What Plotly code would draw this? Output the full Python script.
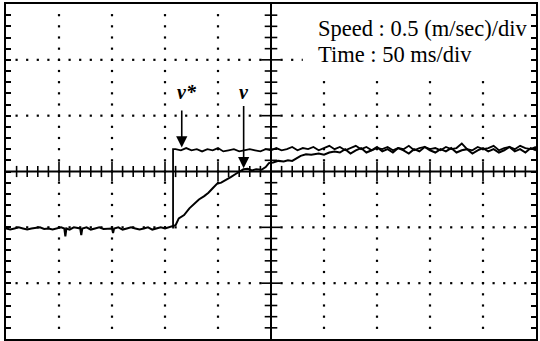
import plotly.graph_objects as go

# ---- data (time in ms, speed in m/s) ----
# common baseline before the step command (both v* and v)
T_BASE = [0, 4, 8, 12, 16, 20, 24, 28, 32, 36, 40, 44, 48, 52, 55, 56, 57, 60, 64, 68, 70, 71, 72,
          76, 80, 84, 88, 92, 96, 100, 101, 102, 106, 110, 114, 118, 122, 126, 130, 134, 138,
          142, 146, 150, 154, 157.6]
V_BASE = [-0.51, -0.52, -0.51, -0.50, -0.51, -0.52, -0.51, -0.505, -0.50, -0.515, -0.51, -0.52,
          -0.51, -0.50, -0.51, -0.58, -0.51, -0.52, -0.50, -0.51, -0.51, -0.57, -0.51,
          -0.50, -0.52, -0.51, -0.50, -0.515, -0.51, -0.51, -0.55, -0.51, -0.50, -0.52, -0.51,
          -0.50, -0.51, -0.52, -0.51, -0.50, -0.52, -0.51, -0.50, -0.51, -0.50, -0.49]

# reference speed v* after the step
T_REF = [157.6, 157.6, 160, 165, 170, 175, 180, 185, 190, 195, 200, 205,
         210, 215, 220, 225, 230, 235, 240, 245, 250, 255,
         260, 265, 270, 275, 280, 285, 290, 295, 300, 305,
         310, 315, 320, 325, 330, 335, 340, 345, 350, 355,
         360, 365, 370, 375, 380, 385, 390, 395, 400, 405,
         410, 415, 420, 425, 430, 435, 440, 445, 450, 455,
         460, 465, 470, 475, 480, 485, 490, 495, 500]
V_REF = [-0.51, 0.20,
         0.20, 0.19, 0.21, 0.19, 0.20, 0.18, 0.20, 0.19, 0.21, 0.18,
         0.19, 0.20, 0.18, 0.19, 0.20, 0.19, 0.18, 0.20, 0.19, 0.21,
         0.19, 0.20, 0.22, 0.19, 0.21, 0.20, 0.22, 0.19, 0.21, 0.23,
         0.20, 0.22, 0.19, 0.21, 0.23, 0.20, 0.22, 0.19, 0.21, 0.20,
         0.22, 0.19, 0.21, 0.20, 0.23, 0.19, 0.21, 0.22, 0.20, 0.21,
         0.19, 0.22, 0.20, 0.21, 0.25, 0.20, 0.19, 0.22, 0.20, 0.21,
         0.23, 0.19, 0.21, 0.22, 0.20, 0.23, 0.21, 0.20, 0.22]

# actual speed v after the step
T_V = [160, 163, 168, 173, 178, 182, 187, 191, 195, 199, 203, 207, 212, 217, 221, 224, 228,
       232, 236, 241, 245, 248, 252, 257, 262, 266, 270, 274, 278, 283, 288, 295, 300, 305, 310,
       315, 320, 325, 330, 335, 340, 345, 350, 355, 360, 365, 370, 375, 380, 385, 390, 395,
       400, 405, 410, 415, 420, 425, 430, 435, 440, 445, 450, 455, 460, 465, 470, 475, 480,
       485, 490, 495, 500]
V_V = [-0.48, -0.42, -0.39, -0.33, -0.29, -0.25, -0.22, -0.19, -0.15, -0.11, -0.10, -0.08,
       -0.05, -0.02, 0.00, 0.02, 0.025, 0.01, 0.02, 0.015, 0.04, 0.075, 0.08, 0.095, 0.09,
       0.10, 0.095, 0.12, 0.14, 0.155, 0.15, 0.16, 0.15, 0.17, 0.18,
       0.17, 0.20, 0.16, 0.19, 0.21, 0.17, 0.19, 0.22, 0.18, 0.20,
       0.17, 0.21, 0.19, 0.16, 0.20, 0.18, 0.22, 0.19, 0.17, 0.20,
       0.18, 0.21, 0.17, 0.19, 0.20, 0.16, 0.19, 0.21, 0.18, 0.20,
       0.17, 0.19, 0.22, 0.18, 0.20, 0.17, 0.21, 0.19]

X_RANGE = [0, 500]        # 10 div x 50 ms
Y_RANGE = [-1.5, 1.5]     # 6 div x 0.5 m/s
X_DIV, Y_DIV = 50, 0.5
X_CENTER, Y_CENTER = 250, 0.0

INFO_LINES = ["Speed : 0.5 (m/sec)/div", "Time : 50 ms/div"]
LABEL_REF, LABEL_V = "v*", "v"

# ---- grid dots and centre-axis ticks derived from the axis divisions ----
x_minor = [i * X_DIV / 5 for i in range(0, 51)]
y_minor = [Y_RANGE[0] + i * Y_DIV / 5 for i in range(0, 31)]
x_grid = [i * X_DIV for i in range(1, 10) if i * X_DIV != X_CENTER]
y_grid = [Y_RANGE[0] + i * Y_DIV for i in range(1, 6) if abs(Y_RANGE[0] + i * Y_DIV - Y_CENTER) > 1e-9]

dot_x, dot_y = [], []
for gx in x_grid:
    for yy in y_minor[1:-1]:
        dot_x.append(gx); dot_y.append(yy)
for gy in y_grid:
    for xx in x_minor[1:-1]:
        dot_x.append(xx); dot_y.append(gy)

fig = go.Figure()
fig.add_trace(go.Scatter(x=dot_x, y=dot_y, mode="markers",
                         marker=dict(size=2.2, color="black", symbol="square"),
                         hoverinfo="skip", showlegend=False))

# centre axes
fig.add_shape(type="line", x0=X_RANGE[0], x1=X_RANGE[1], y0=Y_CENTER, y1=Y_CENTER,
              line=dict(color="black", width=2))
fig.add_shape(type="line", x0=X_CENTER, x1=X_CENTER, y0=Y_RANGE[0], y1=Y_RANGE[1],
              line=dict(color="black", width=2))

hx_minor = [x for i, x in enumerate(x_minor) if i % 5 != 0]
hx_major = [x for i, x in enumerate(x_minor) if i % 5 == 0 and 0 < x < X_RANGE[1]]
vy_minor = [y for i, y in enumerate(y_minor) if i % 5 != 0]
vy_major = [y for i, y in enumerate(y_minor) if i % 5 == 0 and Y_RANGE[0] < y < Y_RANGE[1]]

tick_sets = [(hx_minor, [Y_CENTER] * len(hx_minor), "line-ns-open", 8),
             (hx_major, [Y_CENTER] * len(hx_major), "line-ns-open", 14),
             ([X_CENTER] * len(vy_minor), vy_minor, "line-ew-open", 9),
             ([X_CENTER] * len(vy_major), vy_major, "line-ew-open", 14)]
for tx, ty, sym, sz in tick_sets:
    fig.add_trace(go.Scatter(x=tx, y=ty, mode="markers",
                             marker=dict(symbol=sym, size=sz, color="black",
                                         line=dict(width=1.6, color="black")),
                             hoverinfo="skip", showlegend=False))

# white box behind the scale text (hides grid dots there)
fig.add_shape(type="rect", x0=280, x1=495, y0=0.82, y1=1.48, xref="x", yref="y",
              fillcolor="white", line=dict(width=0), layer="above")

# signals
fig.add_trace(go.Scatter(x=T_REF, y=V_REF, mode="lines", line=dict(color="black", width=1.8),
                         name="v*", showlegend=False))
fig.add_trace(go.Scatter(x=T_BASE + T_V, y=V_BASE + V_V, mode="lines",
                         line=dict(color="black", width=2), name="v", showlegend=False))

font_serif = "Liberation Serif, Times New Roman, serif"

# arrows with labels
arrow_defs = [(LABEL_REF, 165.8, 0.56, 0.215, 170.5), (LABEL_V, 224.2, 0.60, 0.03, 224.2)]
for lab, ax_, ay_, tip, lx in arrow_defs:
    fig.add_annotation(x=ax_, y=tip, ax=ax_, ay=ay_, axref="x", ayref="y", xref="x", yref="y",
                       text="", showarrow=True, arrowhead=2, arrowsize=1.4, arrowwidth=1.6,
                       arrowcolor="black")
    fig.add_annotation(x=lx, y=0.71, xref="x", yref="y", text="<b><i>%s</i></b>" % lab,
                       showarrow=False, font=dict(family=font_serif, size=20, color="black"))

for i, line in enumerate(INFO_LINES):
    fig.add_annotation(x=0.584, y=0.926 - i * 0.078, xref="paper", yref="paper", xanchor="left",
                       yanchor="middle", text=line, showarrow=False,
                       font=dict(family=font_serif, size=22.5, color="black"))

fig.update_xaxes(range=X_RANGE, showgrid=False, zeroline=False, showticklabels=False,
                 showline=True, linecolor="black", linewidth=2, mirror=True, ticks="")
fig.update_yaxes(range=Y_RANGE, showgrid=False, zeroline=False, showticklabels=False,
                 showline=True, linecolor="black", linewidth=2, mirror="ticks",
                 ticks="inside", ticklen=5, tickwidth=1.5, tickcolor="black", dtick=0.1, tick0=0)

fig.update_layout(width=540, height=341, margin=dict(l=6, r=2, t=3, b=2),
                  plot_bgcolor="white", paper_bgcolor="white")

fig.write_html("out.html", config={"displayModeBar": False},
               post_script="document.body.style.margin='0';")
